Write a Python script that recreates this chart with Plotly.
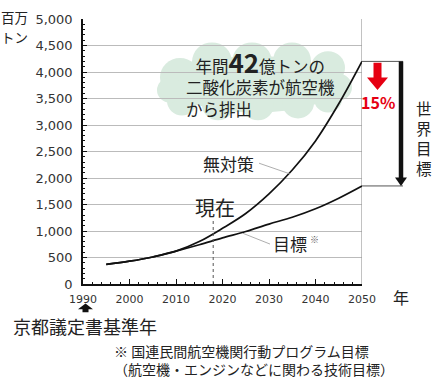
import plotly.graph_objects as go

# ---- data ----
years = [1995, 2000, 2005, 2010, 2015, 2020, 2025, 2030, 2035, 2040, 2045, 2050]
no_measures = [370, 430, 510, 620, 800, 1050, 1330, 1700, 2150, 2700, 3400, 4200]
target = [370, 430, 510, 620, 740, 870, 990, 1130, 1260, 1420, 1620, 1850]
now_year = 2018
base_year = 1990
y_ticks = [0, 500, 1000, 1500, 2000, 2500, 3000, 3500, 4000, 4500, 5000]
x_ticks = [1990, 2000, 2010, 2020, 2030, 2040, 2050]

W, H = 432, 380
L, R, T, B = 83, 70, 12, 96
PW, PH = W - L - R, H - T - B

JP = "Noto Sans CJK JP"
NUM = "DejaVu Sans"


def px(x):
    return (x - L) / PW


def py(y):
    return (T + PH - y) / PH


fig = go.Figure()

fig.add_trace(go.Scatter(x=years, y=no_measures, mode="lines",
                         line=dict(color="#111", width=1.7, shape="spline", smoothing=1.0),
                         showlegend=False, hoverinfo="skip"))
fig.add_trace(go.Scatter(x=years, y=target, mode="lines",
                         line=dict(color="#111", width=1.7, shape="spline", smoothing=1.0),
                         showlegend=False, hoverinfo="skip"))

shapes = []
# cloud
cloud_color = "#d9ebdf"
ellipses = [
    (170, 50, 340, 108),
]
circles = [
    (180, 72, 20), (212, 56, 20), (252, 56, 20), (292, 55, 19), (328, 62, 17),
    (338, 82, 14), (182, 96, 15), (218, 100, 16), (258, 100, 16), (298, 98, 16),
    (328, 94, 14), (170, 85, 13),
]
for (x0, y0, x1, y1) in ellipses:
    shapes.append(dict(type="circle", xref="paper", yref="paper",
                       x0=px(x0), x1=px(x1), y0=py(y1), y1=py(y0),
                       fillcolor=cloud_color, line=dict(width=0), layer="between"))
for (cx, cy, r) in circles:
    shapes.append(dict(type="circle", xref="paper", yref="paper",
                       x0=px(cx - r), x1=px(cx + r), y0=py(cy + r), y1=py(cy - r),
                       fillcolor=cloud_color, line=dict(width=0), layer="between"))

# right border at 2050
shapes.append(dict(type="line", xref="x", yref="y", x0=2050, x1=2050, y0=0, y1=5000,
                   line=dict(color="#999", width=1.2), layer="between"))
# now dashed line
shapes.append(dict(type="line", xref="x", yref="y", x0=now_year, x1=now_year, y0=0, y1=1230,
                   line=dict(color="#555", width=1, dash="dot")))
# horizontal connectors from 2050 ends
for v in (no_measures[-1], target[-1]):
    shapes.append(dict(type="line", xref="paper", yref="y", x0=1.0, x1=px(403), y0=v, y1=v,
                       line=dict(color="#555", width=1)))
# black arrow (shaft + head)
ax = 401
shapes.append(dict(type="line", xref="paper", yref="y", x0=px(ax), x1=px(ax),
                   y0=no_measures[-1], y1=target[-1] + 140,
                   line=dict(color="#111", width=4.5)))
head_top = T + PH - (target[-1] + 160) * PH / 5000
head_bot = T + PH - target[-1] * PH / 5000
shapes.append(dict(type="path", xref="paper", yref="paper",
                   path=f"M {px(ax-6)} {py(head_top)} L {px(ax+6)} {py(head_top)} L {px(ax)} {py(head_bot)} Z",
                   fillcolor="#111", line=dict(width=0)))
# red arrow
rx = 377.5
shapes.append(dict(type="path", xref="paper", yref="paper",
                   path=(f"M {px(rx-4)} {py(57)} L {px(rx+4)} {py(57)} L {px(rx+4)} {py(72)} "
                         f"L {px(rx+10.5)} {py(72)} L {px(rx)} {py(85)} L {px(rx-10.5)} {py(72)} "
                         f"L {px(rx-4)} {py(72)} Z"),
                   fillcolor="#e60012", line=dict(width=0)))
# small arrow under 1990
bx = 85.5
shapes.append(dict(type="path", xref="paper", yref="paper",
                   path=(f"M {px(bx)} {py(304)} L {px(bx+7.5)} {py(310)} L {px(bx+3)} {py(310)} "
                         f"L {px(bx+3)} {py(313)} L {px(bx-3)} {py(313)} L {px(bx-3)} {py(310)} "
                         f"L {px(bx-7.5)} {py(310)} Z"),
                   fillcolor="#111", line=dict(width=0)))
# leader lines
for (x0, y0, x1, y1) in [(259, 160, 290, 171), (243, 232, 270, 243)]:
    shapes.append(dict(type="line", xref="paper", yref="paper",
                       x0=px(x0), y0=py(y0), x1=px(x1), y1=py(y1),
                       line=dict(color="#999", width=0.8)))

annotations = []


def text(x, y, s, size, color="#222", font=JP, xanchor="center", yanchor="middle", align="center"):
    annotations.append(dict(xref="paper", yref="paper", x=px(x), y=py(y), text=s,
                            showarrow=False, xanchor=xanchor, yanchor=yanchor, align=align,
                            font=dict(family=font, size=size, color=color)))


text(260, 77, "年間<b><span style='font-size:26px'>42</span></b>億トンの<br>"
              "二酸化炭素が航空機<br>から排出\u3000\u3000\u3000\u3000\u3000", 16.5)
text(228, 160, "無対策", 17)
text(215, 205, "現在", 20)
text(290, 242, "目標", 17)
text(314, 238, "※", 9, color="#555")
text(378, 97, "<b>15%</b>", 16, color="#e60012")
text(424, 134, "世<br>界<br>目<br>標", 15.5)
text(14, 10, "百万", 13.5)
text(14, 30, "トン", 13.5)
text(401, 297, "年", 16)
text(85, 327, "京都議定書基準年", 18)
text(112, 362.5, "※ 国連民間航空機関行動プログラム目標<br>（航空機・エンジンなどに関わる技術目標）",
     14, xanchor="left", align="left")

fig.update_layout(
    width=W, height=H,
    margin=dict(l=L, r=R, t=T, b=B, pad=0),
    paper_bgcolor="white", plot_bgcolor="white",
    shapes=shapes, annotations=annotations,
    xaxis=dict(range=[1990, 2050], tickvals=x_ticks, ticktext=[str(v) for v in x_ticks],
               showgrid=False, zeroline=False, showline=True, linecolor="#111", linewidth=1.5,
               ticks="inside", ticklen=5, tickcolor="#111", tickwidth=1,
               minor=dict(ticks="inside", dtick=2, ticklen=2.5, tickcolor="#111", tickwidth=1),
               tickfont=dict(family=NUM, size=11, color="#333"), ticklabelstandoff=4,
               fixedrange=True),
    yaxis=dict(range=[0, 5000], tickvals=y_ticks, tickformat=",",
               showgrid=True, gridcolor="#bbb", gridwidth=1, zeroline=False,
               showline=True, linecolor="#111", linewidth=1.5,
               ticks="inside", ticklen=4, tickcolor="#111", tickwidth=1,
               minor=dict(ticks="inside", dtick=100, ticklen=2.5, tickcolor="#111", tickwidth=1,
                          showgrid=False),
               tickfont=dict(family=NUM, size=13, color="#333"), ticklabelstandoff=6,
               fixedrange=True),
)

fig.write_html("out.html", config={"displayModeBar": False},
               post_script="document.body.style.margin='0';document.body.style.overflow='hidden';")
